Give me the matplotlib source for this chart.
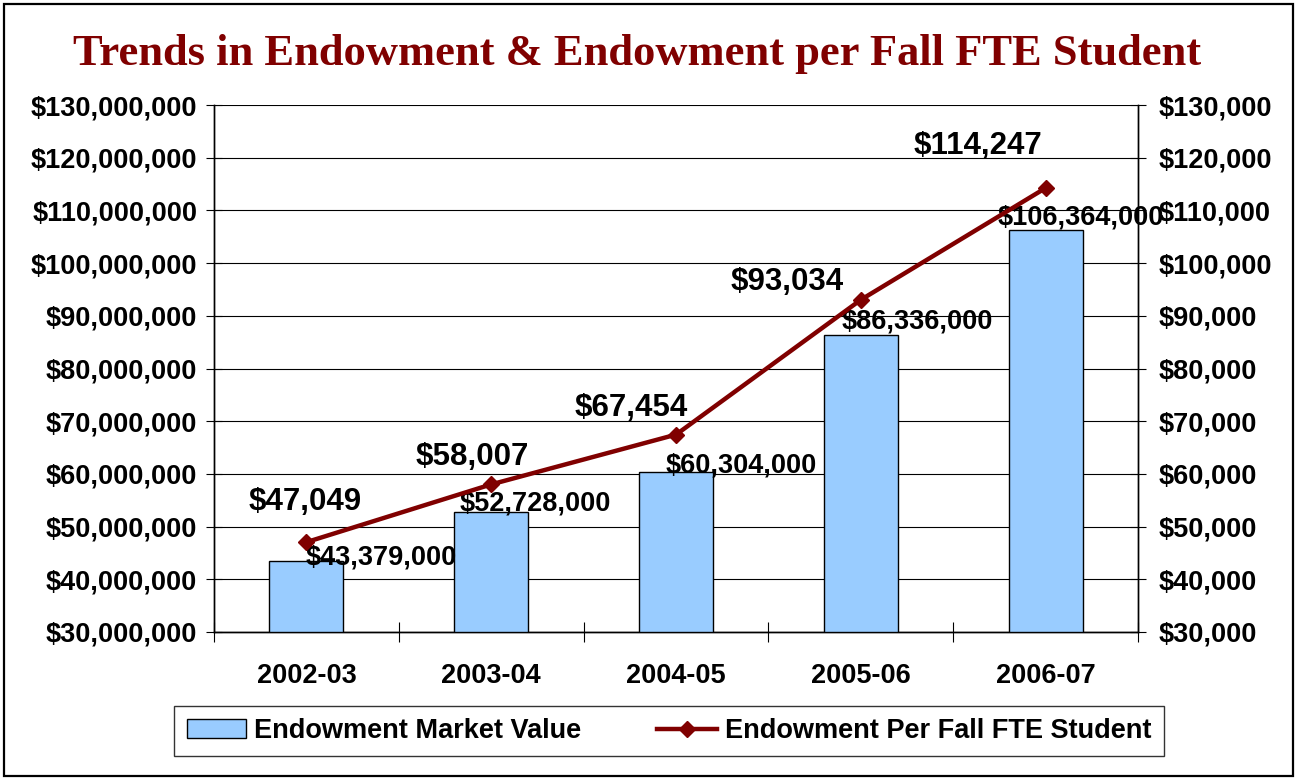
import matplotlib
matplotlib.use("Agg")
import matplotlib.pyplot as plt
from matplotlib.patches import Rectangle
from matplotlib.ticker import FuncFormatter, MultipleLocator

years = ["2002-03", "2003-04", "2004-05", "2005-06", "2006-07"]
market_value = [43379000, 52728000, 60304000, 86336000, 106364000]
per_student = [47049, 58007, 67454, 93034, 114247]

plt.rcParams['font.family'] = ['Liberation Sans', 'DejaVu Sans']
plt.rcParams['font.weight'] = 'bold'

W, H = 1297, 780
fig = plt.figure(figsize=(W / 100, H / 100), dpi=100)
ax = fig.add_axes([214 / W, 1 - 632 / H, (1138 - 214) / W, (632 - 105) / H])
ax2 = ax.twinx()

x = list(range(len(years)))
bars = ax.bar(x, market_value, width=0.4, color='#99CCFF', edgecolor='black',
              linewidth=1, label='Endowment Market Value', zorder=3)
line, = ax2.plot(x, per_student, color='#800000', linewidth=3.2, marker='D',
                 markersize=8, label='Endowment Per Fall FTE Student', zorder=4)

ax.set_xlim(-0.5, 4.5)
ax.set_ylim(30000000, 130000000)
ax2.set_ylim(30000, 130000)
ax.yaxis.set_major_locator(MultipleLocator(10000000))
ax2.yaxis.set_major_locator(MultipleLocator(10000))
money = FuncFormatter(lambda v, p: '${:,.0f}'.format(v))
ax.yaxis.set_major_formatter(money)
ax2.yaxis.set_major_formatter(money)
ax.grid(axis='y', color='black', linewidth=0.8, zorder=0)
ax.set_axisbelow(True)

fs = 19.5
ax.set_xticks(x)
ax.set_xticklabels(years)
ax.set_xticks([i + 0.5 for i in range(-1, len(years))], minor=True)
ax.tick_params(axis='x', which='major', length=0, pad=22, labelsize=fs)
ax.tick_params(axis='x', which='minor', direction='inout', length=14, width=0.8)
ax.tick_params(axis='y', direction='inout', length=12, width=0.8, labelsize=fs, pad=6)
ax2.tick_params(axis='y', direction='inout', length=12, width=0.8, labelsize=fs, pad=9)

for a in (ax, ax2):
    a.spines['top'].set_visible(False)
    for s in ('left', 'right', 'bottom'):
        a.spines[s].set_linewidth(1)

# bar value labels (offsets in points, as placed in the original)
bar_off = [(54, 3), (32, 6), (47, 5), (41, 10), (25, 9)]
for xi, v, off in zip(x, market_value, bar_off):
    ax.annotate('${:,.0f}'.format(v), (xi, v), xytext=off, textcoords='offset points',
                ha='center', va='center', fontsize=fs, fontweight='bold', zorder=5)

line_off = [(-1, 29), (-14, 20), (-32, 19), (-53, 13), (-49, 30)]
for xi, v, off in zip(x, per_student, line_off):
    ax2.annotate('${:,.0f}'.format(v), (xi, v), xytext=off, textcoords='offset points',
                 ha='center', va='center', fontsize=22.5, fontweight='bold', zorder=5)

fig.text(637 / W, 1 - 54 / H, 'Trends in Endowment & Endowment per Fall FTE Student',
         ha='center', va='center', fontsize=32, color='#800000',
         family='Liberation Serif', fontweight='bold')

leg = fig.legend([bars, line], ['Endowment Market Value', 'Endowment Per Fall FTE Student'],
                 loc='center', bbox_to_anchor=(669 / W, 1 - 731 / H), ncol=2,
                 fontsize=fs, frameon=True, fancybox=False, edgecolor='black',
                 handlelength=2.2, handletextpad=0.3, columnspacing=2.8,
                 borderpad=0.45)
leg.get_frame().set_linewidth(1)

fig.patches.append(Rectangle((4 / W, 4 / H), (W - 8) / W, (H - 8) / H, transform=fig.transFigure,
                             fill=False, edgecolor='black', linewidth=1.6))

fig.savefig('out.png', dpi=100)
